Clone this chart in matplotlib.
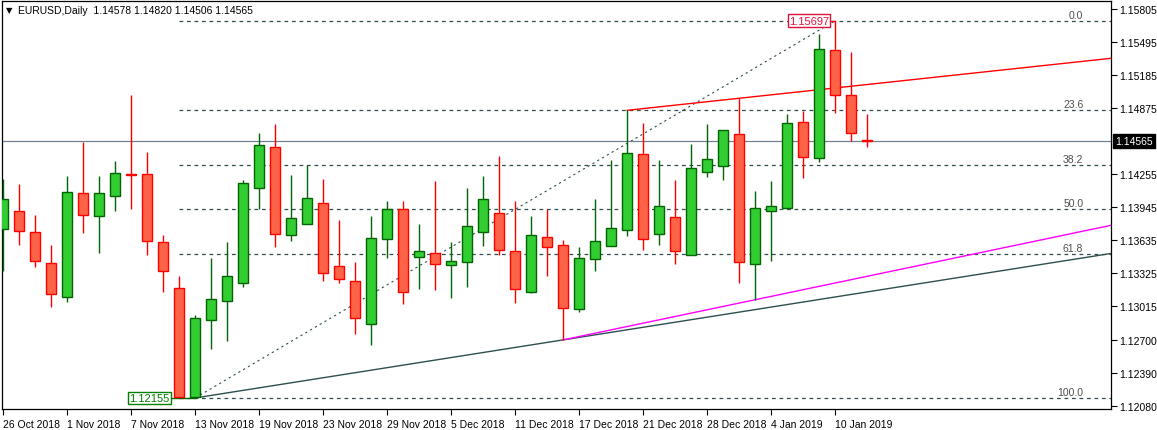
import matplotlib
matplotlib.use("Agg")
import matplotlib.pyplot as plt
from matplotlib.transforms import blended_transform_factory

plt.rcParams['font.family'] = ['Liberation Sans', 'DejaVu Sans']

opens = [1.13745,1.13914,1.13717,1.13425,1.13105,1.14074,1.13867,1.14055,1.14253,1.14253,
         1.13622,1.13190,1.12164,1.12888,1.13067,1.13237,1.14121,1.14507,1.13688,1.13792,
         1.13989,1.13397,1.13255,1.12851,1.13651,1.13924,1.13481,1.13519,1.13406,1.13434,
         1.13717,1.13895,1.13538,1.13152,1.13669,1.13594,1.12992,1.13462,1.13585,1.13735,
         1.14441,1.13698,1.13858,1.13500,1.14272,1.14328,1.14629,1.13415,1.13914,1.13942,
         1.14742,1.14403,1.15420,1.14996,1.14578]
highs = [1.14206,1.14159,1.13876,1.13594,1.14234,1.14554,1.14234,1.14375,1.14996,1.14460,
         1.13688,1.13302,1.12935,1.13472,1.13622,1.14196,1.14639,1.14723,1.14243,1.14338,
         1.14206,1.13829,1.13434,1.13867,1.14008,1.13999,1.13792,1.14187,1.13622,1.14121,
         1.14234,1.14422,1.13999,1.13867,1.13933,1.13641,1.13575,1.14018,1.14385,1.14855,
         1.14733,1.14385,1.14196,1.14535,1.14723,1.14670,1.14968,1.14102,1.14187,1.14817,
         1.14846,1.15570,1.15697,1.15401,1.14820]
lows = [1.13350,1.13594,1.13387,1.13011,1.13058,1.13707,1.13519,1.13905,1.13933,1.13500,
        1.13152,1.12160,1.12155,1.12616,1.12691,1.13199,1.13924,1.13575,1.13632,1.13792,
        1.13255,1.13237,1.12757,1.12653,1.13472,1.13039,1.13180,1.13171,1.13095,1.13199,
        1.13585,1.13500,1.13048,1.13142,1.13302,1.12700,1.12964,1.13350,1.13585,1.13679,
        1.13547,1.13594,1.13415,1.13500,1.14225,1.14196,1.13237,1.13077,1.13444,1.13942,
        1.14215,1.14366,1.14827,1.14563,1.14506]
closes = [1.14018,1.13726,1.13444,1.13133,1.14084,1.13876,1.14074,1.14262,1.14248,1.13632,
          1.13350,1.12164,1.12907,1.13086,1.13302,1.14168,1.14526,1.13698,1.13848,1.14036,
          1.13331,1.13274,1.12907,1.13660,1.13933,1.13152,1.13538,1.13415,1.13444,1.13773,
          1.14018,1.13547,1.13180,1.13688,1.13575,1.13001,1.13472,1.13632,1.13754,1.14450,
          1.13651,1.13961,1.13538,1.14309,1.14394,1.14667,1.13434,1.13942,1.13952,1.14733,
          1.14413,1.15429,1.14996,1.14639,1.14565]

date_tick_idx = [0,4,8,12,16,20,24,28,32,36,40,44,48,52]
date_labels = ["26 Oct 2018","1 Nov 2018","7 Nov 2018","13 Nov 2018","19 Nov 2018","23 Nov 2018",
               "29 Nov 2018","5 Dec 2018","11 Dec 2018","17 Dec 2018","21 Dec 2018","28 Dec 2018",
               "4 Jan 2019","10 Jan 2019"]
price_ticks = [1.15805,1.15495,1.15185,1.14875,1.14255,1.13945,1.13635,1.13325,1.13015,1.12700,1.12390,1.12080]
fib_levels = [0.0,23.6,38.2,50.0,61.8,100.0]
fib_low, fib_high = 1.12155, 1.15697
fib_low_idx, fib_high_idx = 12, 52
last_price = 1.14565
red_tl = [(39,1.14855),(46,1.14968)]
dark_tl = [(12,1.12155),(35,1.12700)]
mag_tl = [(35,1.12700),(47,1.13077)]

GREEN_F, GREEN_E = "#32CD32", "#006400"
RED_F, RED_E = "#FF6347", "#FF0000"
FIB = "#2F4F4F"
FS = 7.5

fig = plt.figure(figsize=(11.57,4.31), dpi=100)
ax = fig.add_axes([2/1157, 1-410/431, 1109/1157, 408/431])
XL = (-0.08, 69.23)
ax.set_xlim(*XL)
ax.set_ylim(1.12051, 1.15881)

for lv in fib_levels:
    p = fib_high - (fib_high-fib_low)*lv/100
    ax.plot([11, XL[1]], [p,p], ls=(0,(3,3)), color=FIB, lw=0.9, zorder=1)
    ax.text(67.5, p+0.00008, f"{lv:.1f}", ha="right", va="bottom", fontsize=FS, color="#4F4F4F")
ax.plot([fib_low_idx, fib_high_idx], [fib_low, fib_high], ls=(0,(2,3)), color=FIB, lw=0.8, zorder=1)

ax.axhline(last_price, color="#708090", lw=0.9, zorder=1)

def tl(pts, color):
    (x1,y1),(x2,y2) = pts
    s = (y2-y1)/(x2-x1)
    ax.plot([x1, XL[1]], [y1, y1+s*(XL[1]-x1)], color=color, lw=1.0, zorder=2)
tl(red_tl, "#FF0000")
tl(dark_tl, FIB)
tl(mag_tl, "#FF00FF")

for i,(o,h,l,c) in enumerate(zip(opens,highs,lows,closes)):
    up = c >= o
    fc, ec = (GREEN_F, GREEN_E) if up else (RED_F, RED_E)
    ax.vlines(i, l, h, color=ec, lw=1.0, zorder=3)
    ax.bar(i, abs(c-o) if abs(c-o) > 1e-6 else 0.000001, bottom=min(o,c), width=0.62,
           color=fc, edgecolor=ec, linewidth=1.0, zorder=4)

ax.plot([fib_high_idx-0.6, fib_high_idx], [fib_high, fib_high], color=RED_E, lw=1, zorder=3)
ax.text(51.6, fib_high, "1.15697", ha="right", va="center", fontsize=8, color="#DC143C",
        bbox=dict(boxstyle="square,pad=0.1", fc="white", ec="#DC143C", lw=1), zorder=5)
ax.plot([10.4, fib_low_idx], [fib_low, fib_low], color=GREEN_E, lw=1, zorder=3)
ax.text(10.4, fib_low, "1.12155", ha="right", va="center", fontsize=8, color="#008000",
        bbox=dict(boxstyle="square,pad=0.1", fc="white", ec="#008000", lw=1), zorder=5)

ax.yaxis.tick_right()
ax.set_yticks(price_ticks)
ax.set_yticklabels([f"{p:.5f}" for p in price_ticks], fontsize=FS)
ax.set_xticks(date_tick_idx)
ax.set_xticklabels(date_labels, fontsize=FS, ha="left")
ax.tick_params(axis="both", length=4, width=0.8, pad=2)
ax.tick_params(axis="x", pad=3)
for sp in ax.spines.values():
    sp.set_linewidth(0.9)
tr = blended_transform_factory(ax.transAxes, ax.transData)
ax.text(1.004, last_price, "1.14565", transform=tr, ha="left", va="center", fontsize=FS,
        color="white", bbox=dict(boxstyle="square,pad=0.2", fc="black", ec="black"), zorder=6)

fig.text(18/1157, 1-11/431, "EURUSD,Daily  1.14578 1.14820 1.14506 1.14565", fontsize=FS,
         ha="left", va="center")
fig.text(9/1157, 1-11/431, "\u25BC", fontsize=6, ha="center", va="center", family="DejaVu Sans")

fig.savefig("out.png", dpi=100, facecolor="white")
